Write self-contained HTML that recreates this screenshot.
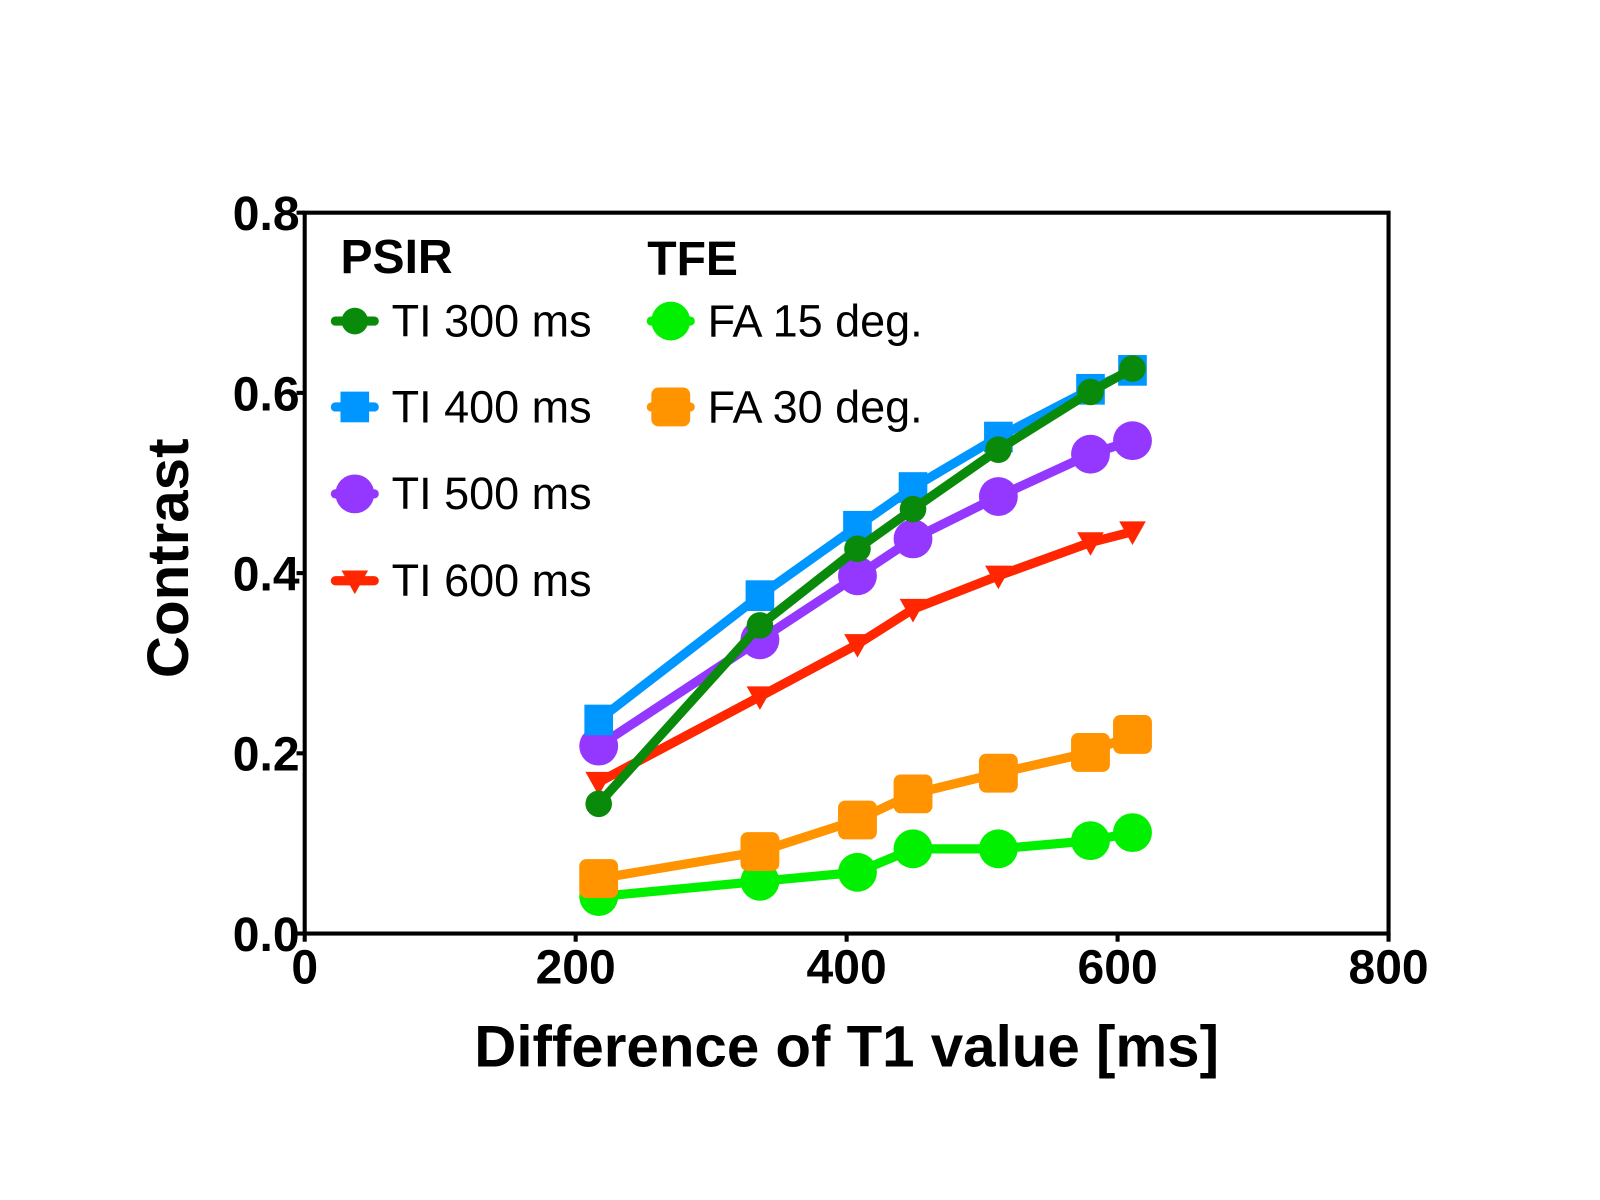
<!DOCTYPE html>
<html><head><meta charset="utf-8"><style>
html,body{margin:0;padding:0;background:#fff;}
svg{display:block;font-family:"Liberation Sans",Arial,sans-serif;}
</style></head><body>
<svg id="chart" width="1600" height="1200" viewBox="0 0 1600 1200">
<rect width="1600" height="1200" fill="#fff"/>
<g transform="scale(1.0225)">
<g id="marks"></g>
<g id="axes"></g>
</g>
</svg>
<script>
const xVals = [217, 336, 408, 449, 512, 580, 611];
const ti300 = [0.144, 0.342, 0.427, 0.471, 0.537, 0.601, 0.627];
const ti400 = [0.237, 0.375, 0.452, 0.495, 0.551, 0.604, 0.625];
const ti500 = [0.208, 0.326, 0.397, 0.438, 0.485, 0.532, 0.547];
const ti600 = [0.168, 0.263, 0.321, 0.360, 0.397, 0.434, 0.446];
const fa15 = [0.041, 0.058, 0.068, 0.094, 0.094, 0.103, 0.112];
const fa30 = [0.061, 0.091, 0.126, 0.155, 0.178, 0.201, 0.221];
const xTicks = [0, 200, 400, 600, 800];
const yTicks = [0.0, 0.2, 0.4, 0.6, 0.8];
const yTickLabels = ["0.0", "0.2", "0.4", "0.6", "0.8"];

const NS = "http://www.w3.org/2000/svg";
const L = 298, R = 1358, T = 208, B = 913;
const xs = v => L + (v - 0) / 800 * (R - L);
const ys = v => B - v / 0.8 * (B - T);
const marks = document.getElementById('marks');
const axes = document.getElementById('axes');
function el(tag, attrs, parent) {
  const e = document.createElementNS(NS, tag);
  for (const k in attrs) e.setAttribute(k, attrs[k]);
  parent.appendChild(e);
  return e;
}
function marker(type, cx, cy, color, g) {
  let m;
  if (type === 'smallcircle') m = el('circle', {cx, cy, r: 13, fill: color}, g);
  else if (type === 'circle') m = el('circle', {cx, cy, r: 19, fill: color}, g);
  else if (type === 'square') m = el('rect', {x: cx - 14, y: cy - 15, width: 28, height: 30, fill: color}, g);
  else if (type === 'rsquare') m = el('rect', {x: cx - 19, y: cy - 19, width: 38, height: 38, rx: 7, fill: color}, g);
  else m = el('polygon', {points: `${cx-13},${cy-10} ${cx+13},${cy-10} ${cx},${cy+13}`, fill: color}, g);
  return m;
}
const series = [
  {name: 'fa15', data: fa15, color: '#00f000', type: 'circle'},
  {name: 'fa30', data: fa30, color: '#ff9300', type: 'rsquare'},
  {name: 'ti600', data: ti600, color: '#ff2600', type: 'tri'},
  {name: 'ti500', data: ti500, color: '#9437ff', type: 'circle'},
  {name: 'ti400', data: ti400, color: '#0096ff', type: 'square'},
  {name: 'ti300', data: ti300, color: '#0a8a0a', type: 'smallcircle'}
];
series.forEach(s => {
  const g = el('g', {}, marks);
  
  
  const pts = s.data.map((v, i) => xs(xVals[i]) + ',' + ys(v)).join(' ');
  const line = el('polyline', {points: pts, fill: 'none', stroke: s.color, 'stroke-width': 9, 'stroke-linejoin': 'round'}, g);
  
  
  s.data.forEach((v, i) => {
    const m = marker(s.type, xs(xVals[i]), ys(v), s.color, g);
    
    
  });
});
const frame = el('rect', {x: L, y: T, width: R - L, height: B - T, fill: 'none', stroke: '#000', 'stroke-width': 4}, axes);


yTicks.forEach((v, i) => {
  el('line', {x1: L - 8, x2: L, y1: ys(v), y2: ys(v), stroke: '#000', 'stroke-width': 4}, axes);
  const t = el('text', {x: 293, y: ys(v) + 17, 'text-anchor': 'end', 'font-size': 47, 'font-weight': 'bold'}, axes);
  t.textContent = yTickLabels[i];
  
  
});
xTicks.forEach(v => {
  el('line', {x1: xs(v), x2: xs(v), y1: B, y2: B + 8, stroke: '#000', 'stroke-width': 4}, axes);
  const t = el('text', {x: xs(v), y: 962, 'text-anchor': 'middle', 'font-size': 47, 'font-weight': 'bold'}, axes);
  t.textContent = String(v);
  
  
});
const xt = el('text', {x: 828, y: 1043, 'text-anchor': 'middle', 'font-size': 57, 'font-weight': 'bold'}, axes);
xt.textContent = 'Difference of T1 value [ms]';


const yt = el('text', {x: 0, y: 0, 'text-anchor': 'middle', 'font-size': 57, 'font-weight': 'bold', transform: 'translate(184,546) rotate(-90)'}, axes);
yt.textContent = 'Contrast';


const lg = el('g', {}, axes);


const h1 = el('text', {x: 333, y: 267, 'font-size': 47, 'font-weight': 'bold'}, lg);
h1.textContent = 'PSIR';


const h2 = el('text', {x: 633, y: 269, 'font-size': 47, 'font-weight': 'bold'}, lg);
h2.textContent = 'TFE';


const entries = [
  {label: 'TI 300 ms', s: 5, mx: 347, tx: 383, y: 314},
  {label: 'TI 400 ms', s: 4, mx: 347, tx: 383, y: 398},
  {label: 'TI 500 ms', s: 3, mx: 347, tx: 383, y: 483},
  {label: 'TI 600 ms', s: 2, mx: 347, tx: 383, y: 568},
  {label: 'FA 15 deg.', s: 0, mx: 656, tx: 692, y: 314},
  {label: 'FA 30 deg.', s: 1, mx: 656, tx: 692, y: 398}
];
entries.forEach(e => {
  const s = series[e.s];
  const g = el('g', {}, lg);
  
  
  el('line', {x1: e.mx - 19, x2: e.mx + 19, y1: e.y, y2: e.y, stroke: s.color, 'stroke-width': 9, 'stroke-linecap': 'round'}, g);
  marker(s.type, e.mx, e.y, s.color, g);
  const t = el('text', {x: e.tx, y: e.y + 15, 'font-size': 44}, g);
  t.textContent = e.label;
});
</script>
</body></html>
